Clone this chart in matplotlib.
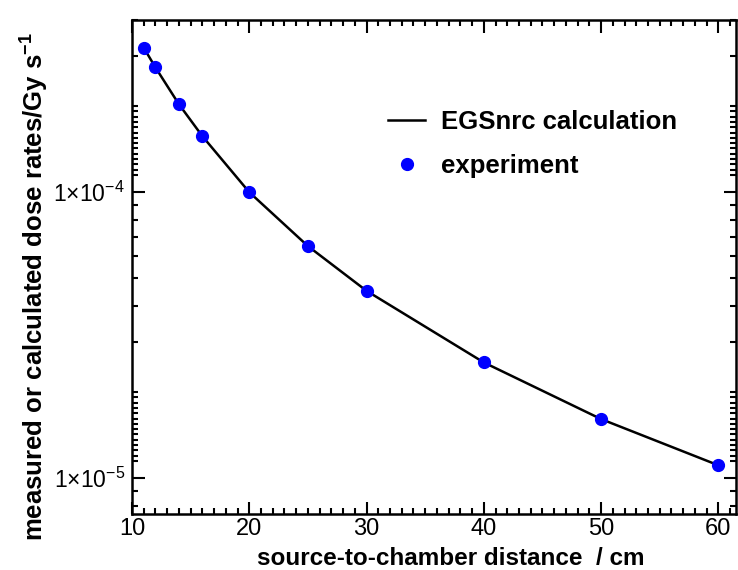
import numpy as np
import matplotlib
matplotlib.use('Agg')
import matplotlib.pyplot as plt
from matplotlib.ticker import FixedLocator, FuncFormatter, NullFormatter

# distance from source to chamber, cm
distance = [11, 12, 14, 16, 20, 25, 30, 40, 50, 60]
# dose rates, Gy/s
calc_rate = [3.20e-4, 2.73e-4, 2.03e-4, 1.57e-4, 1.00e-4, 6.48e-5, 4.52e-5, 2.54e-5, 1.61e-5, 1.11e-5]
exp_rate = [3.20e-4, 2.73e-4, 2.03e-4, 1.57e-4, 1.00e-4, 6.48e-5, 4.52e-5, 2.55e-5, 1.61e-5, 1.11e-5]

plt.rcParams['font.family'] = ['Liberation Sans', 'DejaVu Sans']
plt.rcParams['mathtext.fontset'] = 'custom'
plt.rcParams['mathtext.rm'] = 'Liberation Sans'
plt.rcParams['mathtext.bf'] = 'Liberation Sans:bold'

fig = plt.figure(figsize=(7.38, 5.70), dpi=100)
ax = fig.add_axes([132 / 738, 1 - 514 / 570, 604 / 738, 494 / 570])

ax.plot(distance, calc_rate, color='black', lw=1.8, label='EGSnrc calculation', zorder=2)
ax.plot(distance, exp_rate, 'o', color='#0000ff', ms=8.5, mec='#0000ff', label='experiment', zorder=3)

ax.set_yscale('log')
ax.set_xlim(10, 61.5)
ax.set_ylim(7.5e-6, 4e-4)

ax.set_xticks([10, 20, 30, 40, 50, 60])
ax.xaxis.set_minor_locator(FixedLocator(np.arange(10, 62, 1)))

ax.yaxis.set_major_locator(FixedLocator([1e-5, 1e-4]))
ax.yaxis.set_major_formatter(FuncFormatter(
    lambda v, p: r'$\mathregular{1{\times}10^{%d}}$' % round(np.log10(v))))
minor = []
for d in [1e-6, 1e-5, 1e-4]:
    minor += [d * m for m in np.geomspace(1.15, 2.0, 14)]
    minor += [d * m for m in range(3, 10)]
ax.yaxis.set_minor_locator(FixedLocator(minor))
ax.yaxis.set_minor_formatter(NullFormatter())

ax.tick_params(which='both', direction='in', top=True, right=True, width=1.5)
ax.tick_params(which='major', length=9)
ax.tick_params(which='minor', length=4.5)
ax.tick_params(axis='x', labelsize=17, pad=3)
ax.tick_params(axis='y', labelsize=16.5, pad=5)
for s in ax.spines.values():
    s.set_linewidth(1.8)

ax.set_xlabel('source-to-chamber distance  / cm', fontsize=17.5, fontweight='bold')
ax.xaxis.set_label_coords(0.528, -0.067)
ax.set_ylabel(r'measured or calculated dose rates/Gy s$^{\mathbf{-1}}$', fontsize=18.5, fontweight='bold')
ax.yaxis.set_label_coords(-0.135, 0.46)

leg = ax.legend(loc='upper left', bbox_to_anchor=(388 / 738, 1 - 110 / 570), bbox_transform=fig.transFigure,
                frameon=False, prop={'weight': 'bold', 'size': 18.5}, handlelength=1.45, handletextpad=0.62,
                labelspacing=0.76, borderpad=0, borderaxespad=0)

fig.savefig('out.png', dpi=100)
